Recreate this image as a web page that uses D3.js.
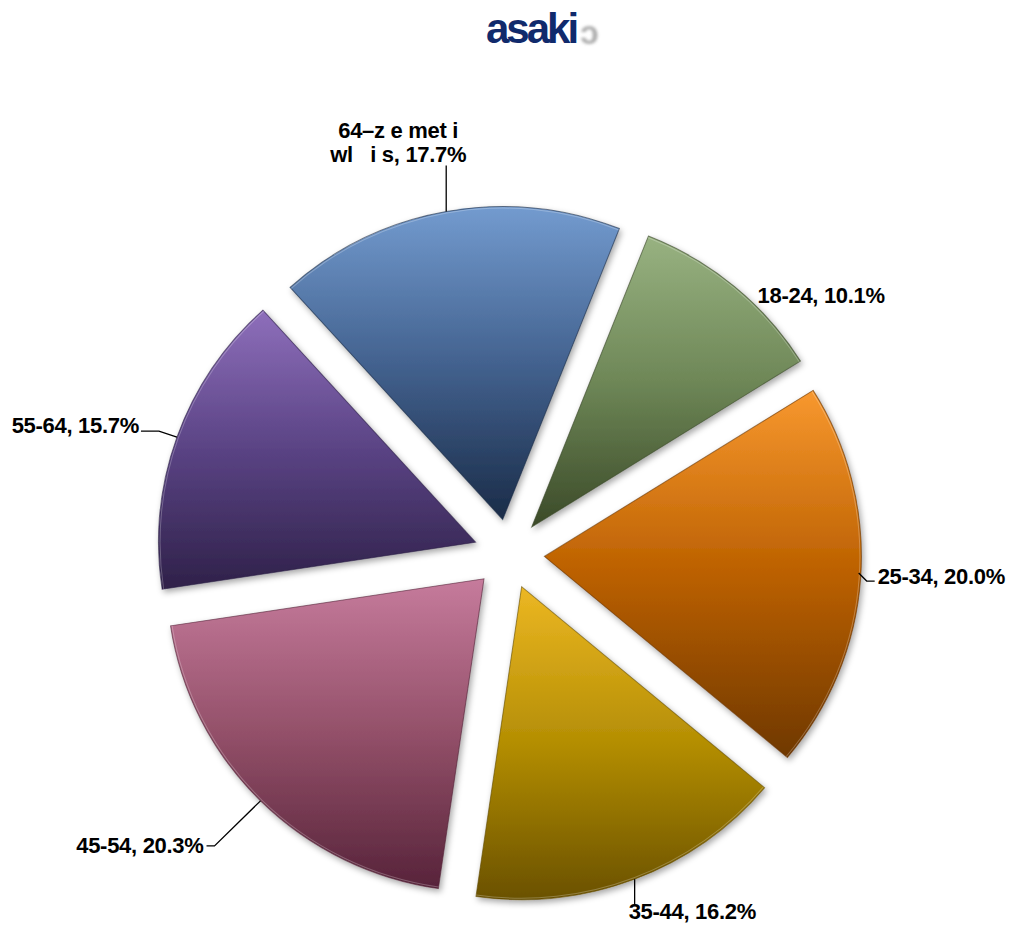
<!DOCTYPE html>
<html><head><meta charset="utf-8">
<script src="https://cdn.jsdelivr.net/npm/d3@7/dist/d3.min.js"></script>
<style>html,body{margin:0;padding:0;background:#fff;}svg{display:block;}</style>
</head><body>
<svg id="chart" width="1013" height="925"></svg>
<script>
// ---- data ----
const categories = ["18-24", "25-34", "35-44", "45-54", "55-64", "64–z e met i\nwl   i s"];
const values = [10.1, 20.0, 16.2, 20.3, 15.7, 17.7];
const colorTop = ["#98b281", "#f8982f", "#ecb723", "#c67b9c", "#8e6fbb", "#739bcf"];
const colorMid = ["#6e8757", "#bb6000", "#b48e04", "#935069", "#5a4384", "#43628f"];
const colorBottom = ["#3b4a28", "#6f3800", "#6a5100", "#57233a", "#2f2149", "#1a2c48"];
const titleText = "asaki";

// ---- layout ----
const W = 1013, H = 925;
const cx = 509, cy = 554, R = 313, explode = 35, sx = 1.013;
const startDeg = 21.6;
const svg = d3.select("#chart");
const defs = svg.append("defs");

const shadow = defs.append("filter").attr("id", "shadow").attr("x", "-20%").attr("y", "-20%").attr("width", "140%").attr("height", "140%");
shadow.append("feDropShadow").attr("dx", 2).attr("dy", 3).attr("stdDeviation", 3).attr("flood-color", "#000").attr("flood-opacity", 0.35);
const blur = defs.append("filter").attr("id", "blur");
blur.append("feGaussianBlur").attr("stdDeviation", 1.4);

categories.forEach((c, i) => {
  const g = defs.append("linearGradient").attr("id", "grad" + i)
    .attr("x1", 0).attr("y1", 0).attr("x2", 0).attr("y2", 1);
  g.append("stop").attr("offset", "0%").attr("stop-color", colorTop[i]);
  g.append("stop").attr("offset", "50%").attr("stop-color", colorMid[i]);
  g.append("stop").attr("offset", "100%").attr("stop-color", colorBottom[i]);
});

// title logo
const logo = svg.append("g");
logo.append("text").attr("x", 580).attr("y", 44).attr("font-family", "Liberation Sans, Arial, sans-serif")
  .attr("font-weight", "bold").attr("font-size", 34).attr("fill", "#9a9a9a")
  .attr("filter", "url(#blur)").attr("opacity", 0.8).text("ɔ");
logo.append("text").attr("x", 486).attr("y", 43).attr("font-family", "Liberation Sans, Arial, sans-serif")
  .attr("font-weight", "bold").attr("font-size", 42).attr("letter-spacing", -3).attr("fill", "#102a6c").text(titleText);

const pie = d3.pie().sort(null).value(d => d)
  .startAngle(startDeg * Math.PI / 180).endAngle(startDeg * Math.PI / 180 + 2 * Math.PI);
const arcs = pie(values);
const arc = d3.arc().innerRadius(0).outerRadius(R);

const root = svg.append("g").attr("transform", `translate(${cx},${cy})`);
const pieG = root.append("g").attr("transform", `scale(${sx},1)`);

function offsetOf(d) {
  const a = (d.startAngle + d.endAngle) / 2;
  return [explode * Math.sin(a), -explode * Math.cos(a)];
}
function edgePoint(d) {
  const a = (d.startAngle + d.endAngle) / 2;
  const o = offsetOf(d);
  return [(o[0] + R * Math.sin(a)) * sx, o[1] - R * Math.cos(a)];
}

pieG.selectAll("path.slice").data(arcs).enter().append("path")
  .attr("class", "slice")
  .attr("transform", d => { const o = offsetOf(d); return `translate(${o[0]},${o[1]})`; })
  .attr("d", arc)
  .attr("fill", (d, i) => `url(#grad${i})`)
  .attr("stroke", (d, i) => d3.color(colorBottom[i]).darker(0.3))
  .attr("stroke-opacity", 0.6)
  .attr("stroke-width", 1)
  .attr("filter", "url(#shadow)");

// subtle highlight on outer rim
const rim = d3.arc().innerRadius(R - 2).outerRadius(R - 1);
pieG.selectAll("path.rim").data(arcs).enter().append("path")
  .attr("transform", d => { const o = offsetOf(d); return `translate(${o[0]},${o[1]})`; })
  .attr("d", rim).attr("fill", "#fff").attr("opacity", 0.25);

// label placement relative to the slice's outer mid-point
const labelPlacement = [
  { leader: [], text: [23, 16], anchor: "start" },
  { leader: [[-2, -5], [6, 3], [14, 3]], text: [17, 6], anchor: "start" },
  { leader: [[0, 0], [0, 25]], text: [-6, 40], anchor: "start" },
  { leader: [[0, 0], [-46, 45], [-54, 45]], text: [-57, 52], anchor: "end" },
  { leader: [[0, 0], [-18, -6], [-36, -6]], text: [-38, -4], anchor: "end" },
  { leader: [[0, 0], [0, -46]], text: [-48, -50], anchor: "middle" }
];

const lbl = root.append("g").attr("font-family", "Liberation Sans, Arial, sans-serif")
  .attr("font-weight", "bold").attr("font-size", 22).attr("letter-spacing", -0.3).attr("fill", "#000");

arcs.forEach((d, i) => {
  const p = edgePoint(d);
  const pl = labelPlacement[i];
  if (pl.leader.length) {
    lbl.append("path")
      .attr("d", d3.line()(pl.leader.map(q => [p[0] + q[0], p[1] + q[1]])))
      .attr("fill", "none").attr("stroke", "#000").attr("stroke-width", 1.3);
  }
  const lines = categories[i].split("\n");
  lines[lines.length - 1] += ", " + values[i].toFixed(1) + "%";
  const t = lbl.append("text").attr("text-anchor", pl.anchor);
  lines.forEach((ln, k) => {
    t.append("tspan").attr("x", p[0] + pl.text[0])
      .attr("y", p[1] + pl.text[1] - (lines.length - 1 - k) * 24)
      .attr("xml:space", "preserve").style("white-space", "pre")
      .text(ln);
  });
});
</script>
</body></html>
